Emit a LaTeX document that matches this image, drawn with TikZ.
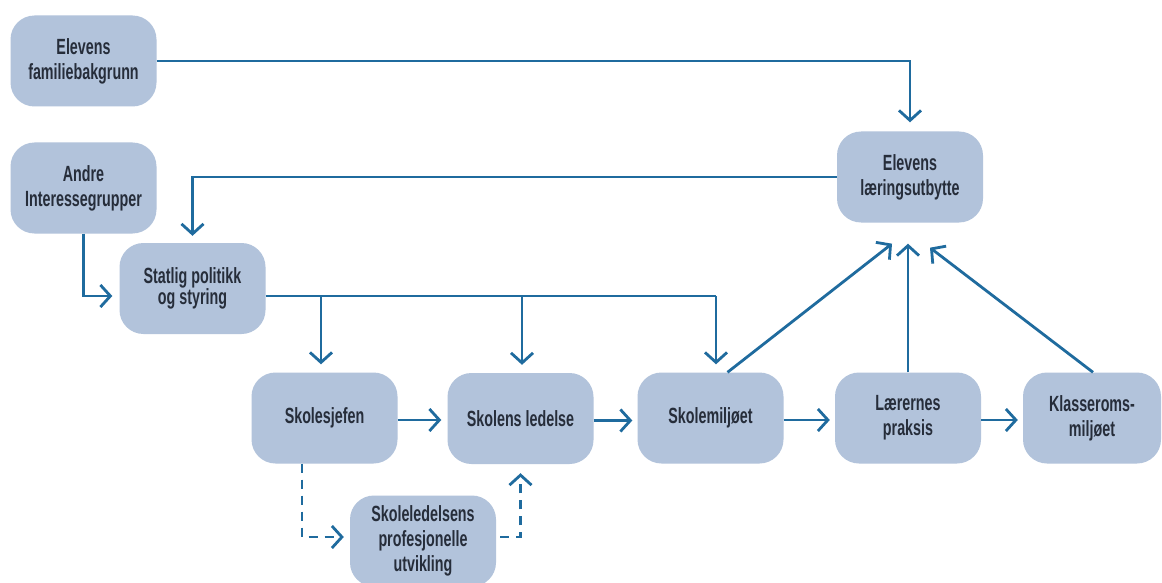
\documentclass[tikz,border=0pt]{standalone}
\usepackage{fontspec}
\setmainfont{Liberation Sans}[FakeStretch=0.65]
\usetikzlibrary{arrows.meta}
\definecolor{boxfill}{HTML}{B2C3DB}
\definecolor{flow}{HTML}{1F6B9E}
\definecolor{ink}{HTML}{262D3A}
\tikzset{
  box/.style={draw=none, fill=boxfill, rounded corners=24pt,
    minimum width=146pt, minimum height=91pt, align=center,
    text=ink, font=\fontsize{22}{25}\selectfont\bfseries, inner sep=0pt},
  arr/.style={draw=flow, line width=2.8pt,
    -{Straight Barb[length=10pt,width=22pt]}},
  bus/.style={draw=flow, line width=2.8pt},
  darr/.style={arr, dash pattern=on 9pt off 7pt},
}
\begin{document}
\begin{tikzpicture}[x=1pt,y=-1pt]
\useasboundingbox (0,0) rectangle (1162,583);
\fill[white] (0,0) rectangle (1162,583);

% boxes
\node[box] (fam)   at (83.5,61)   {Elevens\\familiebakgrunn};
\node[box] (andre) at (83.5,188)  {Andre\\Interessegrupper};
\node[box, font=\fontsize{22}{20}\selectfont\bfseries] (stat) at (192.5,288.5) {Statlig politikk\\og styring};
\node[box] (sjef)  at (324.5,418)  {Skolesjefen};
\node[box] (led)   at (520.5,418.5) {Skolens ledelse};
\node[box] (miljo) at (710.5,418)  {Skolemiljøet};
\node[box] (laer)  at (908,418)    {Lærernes\\praksis};
\node[box, minimum width=138pt] (klas) at (1092,418) {Klasseroms-\\miljøet};
\node[box] (utb)   at (910,177)    {Elevens\\læringsutbytte};
\node[box] (prof)  at (423,541)    {Skoleledelsens\\profesjonelle\\utvikling};

% outside influences
\draw[arr, shorten >=9pt] (fam.east) -| (utb.north);
\draw[arr, shorten >=7pt] (utb.west) -| (stat.north);
\draw[arr, shorten >=7pt] (andre.south) |- ([yshift=-7.5pt]stat.west);

% state policy bus and its drops
\coordinate (b) at ([yshift=-7.5pt]stat.east);
\coordinate (sjefin)  at ([xshift=-3.5pt]sjef.north);
\coordinate (ledin)   at ([xshift=1.5pt]led.north);
\coordinate (miljoin) at ([xshift=5.5pt]miljo.north);
\draw[bus] (b) -- (b -| miljoin);
\draw[arr, shorten >=8pt] (b -| sjefin) -- (sjefin);
\draw[arr, shorten >=8pt] (b -| ledin) -- (ledin);
\draw[arr, shorten >=8pt] (b -| miljoin) -- (miljoin);

% main chain
\draw[arr, shorten >=6pt] ([yshift=-2pt]sjef.east) -- ([yshift=-2pt]sjef.east -| led.west);
\draw[arr, shorten >=5pt] ([yshift=-2pt]led.east) -- ([yshift=-2pt]led.east -| miljo.west);
\draw[arr, shorten >=5pt] ([yshift=-2pt]miljo.east) -- ([yshift=-2pt]miljo.east -| laer.west);
\draw[arr, shorten >=5pt] ([yshift=-2pt]laer.east) -- ([yshift=-2pt]laer.east -| klas.west);

% into learning outcome
\coordinate (tipmid) at ([yshift=-21pt]utb.south);
\draw[arr] ([xshift=17pt]miljo.north) -- ([xshift=-18pt,yshift=-21pt]utb.south);
\draw[arr] (laer.north) -- (laer.north |- tipmid);
\draw[arr] ([xshift=1pt]klas.north) -- ([xshift=20pt,yshift=-25pt]utb.south);

% professional development
\draw[darr, shorten >=6pt] ([xshift=-22.5pt]sjef.south) |- ([yshift=4pt]prof.west);
\draw[darr, shorten >=9pt, shorten <=4pt] ([yshift=4pt]prof.east) -| (led.south);
\end{tikzpicture}
\end{document}
